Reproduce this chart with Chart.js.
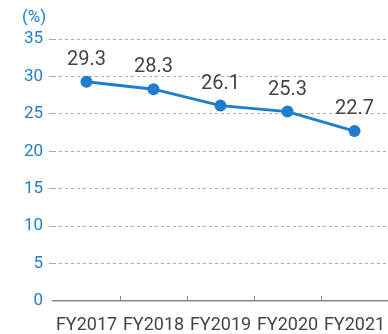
<!DOCTYPE html>
<html>
<head>
<meta charset="utf-8">
<script src="https://cdn.jsdelivr.net/npm/chart.js@4"></script>
<style>
  html, body { margin: 0; padding: 0; background: #fff; }
  #wrap { width: 388px; height: 334px; }
</style>
</head>
<body>
<div id="wrap"><canvas id="ratioChart"></canvas></div>
<script>
// Fiscal years and ratio values (%)
const years = ['FY2017', 'FY2018', 'FY2019', 'FY2020', 'FY2021'];
const ratios = [29.3, 28.3, 26.1, 25.3, 22.7];
const yTicks = [0, 5, 10, 15, 20, 25, 30, 35];

const BLUE = '#1f7ecb';
const GREY_TEXT = '#444444';

// Value labels above each point
const valueLabels = {
    id: 'valueLabels',
    afterDatasetsDraw(chart) {
        const ctx = chart.ctx;
        const meta = chart.getDatasetMeta(0);
        ctx.save();
        ctx.font = '20px Roboto';
        ctx.fillStyle = GREY_TEXT;
        ctx.textAlign = 'center';
        ctx.textBaseline = 'alphabetic';
        meta.data.forEach(function (pt, i) {
            ctx.fillText(ratios[i].toFixed(1), pt.x, pt.y - 17);
        });
        ctx.restore();
    }
};

// Small upward tick marks between categories, plus the unit label
const axisExtras = {
    id: 'axisExtras',
    afterDraw(chart) {
        const ctx = chart.ctx;
        const x = chart.scales.x;
        const y = chart.scales.y;
        ctx.save();
        ctx.strokeStyle = '#888888';
        ctx.lineWidth = 1;
        for (let i = 1; i < years.length; i++) {
            const px = Math.round((x.getPixelForValue(i - 1) + x.getPixelForValue(i)) / 2) + 0.5;
            ctx.beginPath();
            ctx.moveTo(px, x.top);
            ctx.lineTo(px, x.top - 5);
            ctx.stroke();
        }
        ctx.font = '17px Roboto';
        ctx.fillStyle = BLUE;
        ctx.textAlign = 'center';
        ctx.textBaseline = 'middle';
        ctx.fillText('(%)', 34, y.top - 21);
        ctx.restore();
    }
};

const ctx = document.getElementById('ratioChart').getContext('2d');
new Chart(ctx, {
    type: 'line',
    data: {
        labels: years,
        datasets: [{
            data: ratios,
            borderColor: BLUE,
            backgroundColor: BLUE,
            borderWidth: 3,
            pointRadius: 6,
            pointHoverRadius: 6,
            pointBackgroundColor: BLUE,
            pointBorderWidth: 0,
            tension: 0
        }]
    },
    options: {
        responsive: true,
        maintainAspectRatio: false,
        animation: false,
        layout: {
            autoPadding: false,
            padding: { top: 39, right: 0, left: 0, bottom: 0 }
        },
        plugins: {
            legend: { display: false },
            tooltip: { enabled: false }
        },
        scales: {
            x: {
                offset: true,
                afterFit(scale) {
                    scale.height = 33;
                    scale.paddingLeft = 0;
                    scale.paddingRight = 0;
                },
                grid: { display: false, drawTicks: false },
                border: { display: true, color: '#888888', width: 1.5 },
                ticks: {
                    padding: 14,
                    maxRotation: 0,
                    minRotation: 0,
                    autoSkip: false,
                    color: GREY_TEXT,
                    font: { family: 'Roboto', size: 18 }
                }
            },
            y: {
                min: 0,
                max: 35,
                afterFit(scale) { scale.width = 53; },
                afterBuildTicks(scale) {
                    scale.ticks = yTicks.map(v => ({ value: v }));
                },
                grid: {
                    color: function (c) { return c.tick && c.tick.value === 0 ? 'rgba(0,0,0,0)' : '#aaaaaa'; },
                    lineWidth: 1,
                    tickLength: 4,
                    drawTicks: true
                },
                border: { display: false, dash: [3, 3] },
                ticks: {
                    padding: 6,
                    color: BLUE,
                    font: { family: 'Roboto', size: 17 }
                }
            }
        }
    },
    plugins: [valueLabels, axisExtras]
});
</script>
</body>
</html>
